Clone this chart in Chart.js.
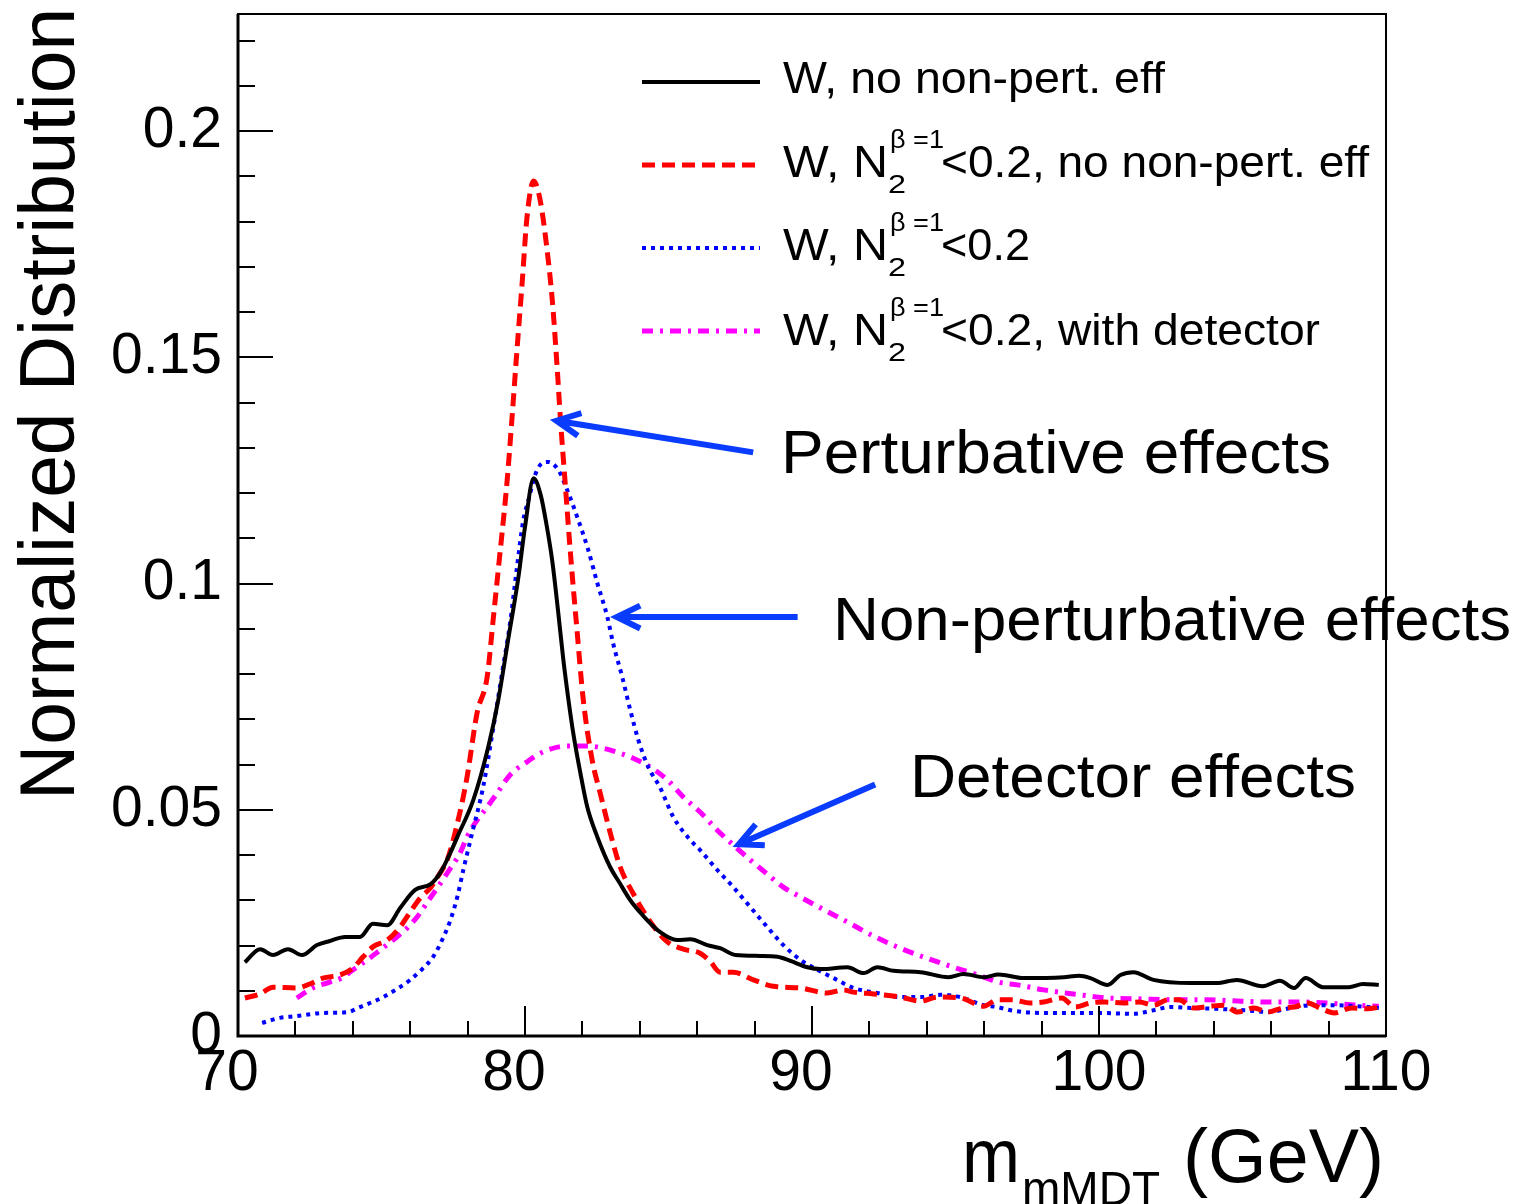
<!DOCTYPE html>
<html>
<head>
<meta charset="utf-8">
<script src="https://cdn.jsdelivr.net/npm/chart.js@4.4.1/dist/chart.umd.min.js"></script>
<style>
  html, body { margin: 0; padding: 0; background: #fff; }
  #chart { display: block; }
</style>
</head>
<body>
<canvas id="chart" width="1521" height="1204"></canvas>
<script>
const FONT = '"Liberation Sans", Arial, Helvetica, sans-serif';

// axis ranges and tick labels
const X_MIN = 70, X_MAX = 110;
const Y_MIN = 0, Y_MAX = 0.2259;
const xTickValues = [70, 80, 90, 100, 110];
const xTickLabels = ["70", "80", "90", "100", "110"];
const yTickValues = [0, 0.05, 0.1, 0.15, 0.2];
const yTickLabels = ["0", "0.05", "0.1", "0.15", "0.2"];

// W, no non-pert. eff
const blackX = [70.24, 70.77, 71.22, 71.74, 72.23, 72.75, 73.2, 73.73, 74.25, 74.7, 75.2, 75.65, 76.17, 76.7, 77.04, 77.4, 77.67, 78.2, 78.72, 79.07, 79.41, 79.77, 80.0, 80.3, 80.55, 80.75, 80.95, 81.16, 81.33, 81.51, 81.68, 81.93, 82.17, 82.52, 82.97, 83.3, 83.67, 84.1, 84.7, 85.3, 85.76, 86.35, 86.8, 87.33, 88.2, 88.8, 89.25, 89.84, 90.3, 91.23, 91.8, 92.28, 92.84, 93.78, 94.76, 95.28, 96.0, 96.5, 97.37, 98.77, 99.3, 99.7, 100.3, 100.75, 101.2, 101.9, 103.2, 104.1, 104.8, 105.7, 106.3, 106.8, 107.2, 107.8, 108.7, 109.2, 109.75];
const blackY = [0.0163, 0.0192, 0.0179, 0.0192, 0.0179, 0.0201, 0.0210, 0.0219, 0.0219, 0.0248, 0.0245, 0.0283, 0.0323, 0.0335, 0.0360, 0.0405, 0.0444, 0.0522, 0.0639, 0.0743, 0.0875, 0.1014, 0.1125, 0.1233, 0.1195, 0.1130, 0.1050, 0.0935, 0.0835, 0.0745, 0.0670, 0.0581, 0.0506, 0.0440, 0.0373, 0.0338, 0.0300, 0.0267, 0.0230, 0.0212, 0.0214, 0.0201, 0.0194, 0.0179, 0.0177, 0.0175, 0.0166, 0.0152, 0.0148, 0.0152, 0.0139, 0.0152, 0.0144, 0.0141, 0.0130, 0.0137, 0.0130, 0.0136, 0.0128, 0.0130, 0.0133, 0.0128, 0.0113, 0.0135, 0.0141, 0.0124, 0.0117, 0.0117, 0.0124, 0.0110, 0.0122, 0.0106, 0.0128, 0.0108, 0.0108, 0.0115, 0.0113];

// W, N2 < 0.2, no non-pert. eff
const redX = [70.24, 70.77, 71.22, 72.05, 72.5, 72.96, 73.56, 74.0, 74.36, 74.7, 75.2, 75.65, 76.0, 76.35, 76.7, 77.04, 77.29, 77.67, 77.98, 78.33, 78.68, 78.9, 79.1, 79.37, 79.55, 79.72, 79.9, 80.07, 80.3, 80.53, 80.77, 80.95, 81.12, 81.23, 81.4, 81.58, 81.82, 82.03, 82.34, 82.62, 82.97, 83.32, 83.77, 84.37, 84.96, 85.52, 86.1, 86.45, 86.8, 87.26, 87.96, 88.65, 89.6, 90.53, 91.1, 91.45, 92.14, 93.08, 93.78, 94.37, 95.17, 95.98, 96.46, 96.98, 97.6, 98.07, 98.7, 99.17, 99.7, 100.2, 100.86, 101.4, 101.9, 102.4, 102.78, 103.3, 103.9, 104.35, 104.83, 105.4, 105.88, 106.4, 106.8, 107.27, 107.7, 108.2, 108.8, 109.37, 109.75];
const redY = [0.0084, 0.0093, 0.0108, 0.0106, 0.0115, 0.0128, 0.0135, 0.0150, 0.0175, 0.0197, 0.0212, 0.0241, 0.0274, 0.0305, 0.0327, 0.0360, 0.0389, 0.0477, 0.0572, 0.0714, 0.0793, 0.0926, 0.1050, 0.1222, 0.1368, 0.1516, 0.1664, 0.1810, 0.1890, 0.1847, 0.1737, 0.1627, 0.1478, 0.1368, 0.1222, 0.1070, 0.0891, 0.0743, 0.0610, 0.0537, 0.0449, 0.0373, 0.0315, 0.0252, 0.0208, 0.0192, 0.0183, 0.0165, 0.0141, 0.0141, 0.0124, 0.0110, 0.0106, 0.0095, 0.0102, 0.0097, 0.0093, 0.0086, 0.0077, 0.0086, 0.0084, 0.0066, 0.0080, 0.0080, 0.0073, 0.0075, 0.0084, 0.0064, 0.0073, 0.0075, 0.0073, 0.0075, 0.0068, 0.0080, 0.0080, 0.0062, 0.0066, 0.0068, 0.0053, 0.0062, 0.0053, 0.0062, 0.0064, 0.0073, 0.0062, 0.0051, 0.0062, 0.0060, 0.0064];

// W, N2 < 0.2
const blueX = [70.84, 71.46, 72.05, 72.96, 73.84, 74.18, 74.6, 75.06, 75.54, 76.0, 76.42, 76.8, 77.11, 77.4, 77.64, 77.85, 78.16, 78.54, 78.9, 79.2, 79.48, 79.72, 79.94, 80.1, 80.42, 80.8, 81.16, 81.47, 81.82, 82.2, 82.52, 82.87, 83.07, 83.39, 83.67, 83.95, 84.3, 84.7, 85.17, 85.76, 86.1, 86.7, 87.26, 87.85, 88.44, 89.0, 89.6, 90.2, 90.75, 91.45, 92.28, 93.08, 93.78, 94.48, 95.17, 95.98, 96.46, 96.92, 97.96, 99.25, 100.05, 101.2, 101.9, 102.5, 103.2, 104.1, 105.05, 105.9, 106.7, 107.4, 108.05, 109.0, 109.75];
const blueY = [0.0029, 0.0040, 0.0044, 0.0051, 0.0053, 0.0062, 0.0073, 0.0086, 0.0104, 0.0124, 0.0148, 0.0175, 0.0212, 0.0256, 0.0307, 0.0367, 0.0449, 0.0550, 0.0683, 0.0802, 0.0913, 0.1036, 0.1140, 0.1180, 0.1251, 0.1269, 0.1251, 0.1207, 0.1147, 0.1075, 0.1001, 0.0926, 0.0868, 0.0793, 0.0720, 0.0654, 0.0594, 0.0550, 0.0484, 0.0433, 0.0411, 0.0367, 0.0329, 0.0285, 0.0241, 0.0201, 0.0168, 0.0146, 0.0128, 0.0106, 0.0095, 0.0086, 0.0086, 0.0091, 0.0086, 0.0068, 0.0064, 0.0057, 0.0051, 0.0051, 0.0051, 0.0049, 0.0057, 0.0064, 0.0062, 0.0060, 0.0057, 0.0053, 0.0062, 0.0068, 0.0068, 0.0066, 0.0062];

// W, N2 < 0.2, with detector
const magentaX = [72.05, 72.6, 73.2, 73.66, 74.0, 74.5, 74.95, 75.4, 75.9, 76.24, 76.6, 76.94, 77.29, 77.74, 77.98, 78.33, 78.68, 79.03, 79.48, 80.07, 80.63, 81.47, 82.17, 82.73, 83.32, 83.77, 84.37, 84.96, 85.52, 86.1, 86.7, 87.26, 87.85, 88.44, 89.0, 89.35, 90.3, 91.23, 92.14, 93.08, 94.0, 94.93, 95.87, 96.5, 97.16, 98.07, 99.1, 100.3, 101.45, 102.6, 103.8, 104.95, 105.88, 107.03, 107.97, 109.0, 109.75];
const magentaY = [0.0084, 0.0106, 0.0119, 0.0130, 0.0146, 0.0168, 0.0190, 0.0212, 0.0239, 0.0263, 0.0296, 0.0327, 0.0360, 0.0405, 0.0440, 0.0477, 0.0506, 0.0537, 0.0577, 0.0606, 0.0628, 0.0641, 0.0641, 0.0636, 0.0625, 0.0614, 0.0594, 0.0566, 0.0528, 0.0495, 0.0455, 0.0422, 0.0389, 0.0358, 0.0329, 0.0316, 0.0283, 0.0252, 0.0221, 0.0194, 0.0172, 0.0152, 0.0133, 0.0119, 0.0113, 0.0102, 0.0093, 0.0084, 0.0082, 0.0080, 0.0080, 0.0077, 0.0075, 0.0075, 0.0073, 0.0068, 0.0066];

// legend text: main part, then the N2^{beta=1} piece, then tail
const legendHead = ["W, no non-pert. eff", "W, N", "W, N", "W, N"];
const legendTail = ["", "<0.2, no non-pert. eff", "<0.2", "<0.2, with detector"];

// annotations: text and arrow tail/tip in data coordinates
const noteTexts = ["Perturbative effects", "Non-perturbative effects", "Detector effects"];
const arrowTailX = [87.95, 89.5, 92.2];
const arrowTailY = [0.1290, 0.0926, 0.0556];
const arrowTipX = [81.1, 83.2, 87.45];
const arrowTipY = [0.1360, 0.0926, 0.0424];

function toPoints(xs, ys) {
  return xs.map((x, i) => ({ x, y: ys[i] }));
}

function fitText(ctx, text, x, y, size, width, align) {
  ctx.font = `${size}px ${FONT}`;
  const w = ctx.measureText(text).width;
  const sx = width ? width / w : 1;
  ctx.save();
  ctx.translate(x, y);
  ctx.scale(sx, 1);
  ctx.textAlign = align || "left";
  ctx.textBaseline = "alphabetic";
  ctx.fillText(text, 0, 0);
  ctx.restore();
  return w * sx;
}

function drawArrow(ctx, x0, y0, x1, y1) {
  const ang = Math.atan2(y1 - y0, x1 - x0);
  const head = 26, spread = 26 * Math.PI / 180;
  ctx.beginPath();
  ctx.moveTo(x0, y0);
  ctx.lineTo(x1, y1);
  ctx.moveTo(x1 - head * Math.cos(ang - spread), y1 - head * Math.sin(ang - spread));
  ctx.lineTo(x1, y1);
  ctx.lineTo(x1 - head * Math.cos(ang + spread), y1 - head * Math.sin(ang + spread));
  ctx.stroke();
}

const rootFrame = {
  id: "rootFrame",
  beforeDraw(chart) {
    const ctx = chart.ctx;
    ctx.save();
    ctx.fillStyle = "#fff";
    ctx.fillRect(0, 0, chart.width, chart.height);
    ctx.restore();
  },
  afterDatasetsDraw(chart) {
    const ctx = chart.ctx;
    const { left, right, top, bottom } = chart.chartArea;
    const xs = chart.scales.x, ys = chart.scales.y;
    ctx.save();
    ctx.strokeStyle = "#000";
    ctx.fillStyle = "#000";

    // frame
    ctx.lineWidth = 2;
    ctx.strokeRect(left, top, right - left, bottom - top);
    ctx.lineWidth = 3;
    ctx.beginPath();
    ctx.moveTo(left, top);
    ctx.lineTo(left, bottom);
    ctx.lineTo(right, bottom);
    ctx.stroke();

    // ticks
    ctx.lineWidth = 2;
    ctx.beginPath();
    for (let v = X_MIN; v <= X_MAX + 1e-9; v += 2) {
      const px = Math.round(xs.getPixelForValue(v));
      const len = (Math.round(v) % 10 === 0) ? 30 : 15;
      ctx.moveTo(px, bottom);
      ctx.lineTo(px, bottom - len);
    }
    for (let i = 0; i * 0.01 <= Y_MAX; i++) {
      const py = Math.round(ys.getPixelForValue(i * 0.01));
      const len = (i % 5 === 0) ? 35 : 17;
      ctx.moveTo(left, py);
      ctx.lineTo(left + len, py);
    }
    ctx.stroke();

    // tick labels
    ctx.font = `57px ${FONT}`;
    ctx.textAlign = "right";
    ctx.textBaseline = "middle";
    yTickValues.forEach((v, i) => {
      ctx.fillText(yTickLabels[i], 222, ys.getPixelForValue(v));
    });
    ctx.textAlign = "center";
    ctx.textBaseline = "alphabetic";
    xTickValues.forEach((v, i) => {
      const shift = xTickLabels[i].length < 3 ? -11 : 0;
      ctx.fillText(xTickLabels[i], xs.getPixelForValue(v) + shift, 1090);
    });

    // axis titles
    fitText(ctx, "m", 962, 1182, 76, 58);
    fitText(ctx, "mMDT", 1022, 1205, 48, 138);
    fitText(ctx, "(GeV)", 1183, 1182, 76, 201);
    ctx.save();
    ctx.translate(74, 800);
    ctx.rotate(-Math.PI / 2);
    fitText(ctx, "Normalized Distribution", 0, 0, 77, 792);
    ctx.restore();

    // legend
    const rowLine = [82, 165, 248, 331];
    const rowBase = [93, 177, 260, 345];
    const tailEnd = [0, 1369, 1030, 1320];
    chart.data.datasets.forEach((ds, i) => {
      ctx.save();
      ctx.strokeStyle = ds.borderColor;
      ctx.lineWidth = ds.borderWidth;
      ctx.setLineDash(ds.borderDash || []);
      ctx.beginPath();
      ctx.moveTo(642, rowLine[i]);
      ctx.lineTo(760, rowLine[i]);
      ctx.stroke();
      ctx.restore();
      if (i === 0) {
        fitText(ctx, legendHead[i], 783, rowBase[i], 44, 382);
      } else {
        fitText(ctx, legendHead[i], 783, rowBase[i], 44, 105);
        fitText(ctx, "2", 888, rowBase[i] + 16, 26, 18);
        fitText(ctx, "\u03b2 =1", 890, rowBase[i] - 29, 26, 54);
        fitText(ctx, legendTail[i], 941, rowBase[i], 44, tailEnd[i] - 941);
      }
    });

    // annotation arrows
    ctx.strokeStyle = "#0a3cff";
    ctx.lineWidth = 6;
    ctx.lineCap = "butt";
    ctx.lineJoin = "miter";
    for (let i = 0; i < noteTexts.length; i++) {
      drawArrow(ctx,
        xs.getPixelForValue(arrowTailX[i]), ys.getPixelForValue(arrowTailY[i]),
        xs.getPixelForValue(arrowTipX[i]), ys.getPixelForValue(arrowTipY[i]));
    }
    ctx.fillStyle = "#000";
    fitText(ctx, noteTexts[0], 781, 473, 62, 550);
    fitText(ctx, noteTexts[1], 833, 640, 62, 678);
    fitText(ctx, noteTexts[2], 910, 797, 62, 446);

    ctx.restore();
  }
};

const lineStyle = {
  showLine: true,
  fill: false,
  pointRadius: 0,
  pointHoverRadius: 0,
  cubicInterpolationMode: "monotone"
};

new Chart(document.getElementById("chart").getContext("2d"), {
  type: "scatter",
  data: {
    datasets: [
      { ...lineStyle, label: "black", data: toPoints(blackX, blackY), borderColor: "#000000", borderWidth: 4 },
      { ...lineStyle, label: "red", data: toPoints(redX, redY), borderColor: "#ff0000", borderWidth: 5, borderDash: [13, 7] },
      { ...lineStyle, label: "blue", data: toPoints(blueX, blueY), borderColor: "#0000ff", borderWidth: 4, borderDash: [4, 5] },
      { ...lineStyle, label: "magenta", data: toPoints(magentaX, magentaY), borderColor: "#ff00ff", borderWidth: 5, borderDash: [11, 7, 3, 7] }
    ]
  },
  options: {
    responsive: false,
    animation: false,
    devicePixelRatio: 1,
    layout: { padding: { left: 238, top: 14, right: 135, bottom: 168 } },
    plugins: { legend: { display: false }, tooltip: { enabled: false } },
    scales: {
      x: { type: "linear", min: X_MIN, max: X_MAX, display: false },
      y: { type: "linear", min: Y_MIN, max: Y_MAX, display: false }
    }
  },
  plugins: [rootFrame]
});
</script>
</body>
</html>
